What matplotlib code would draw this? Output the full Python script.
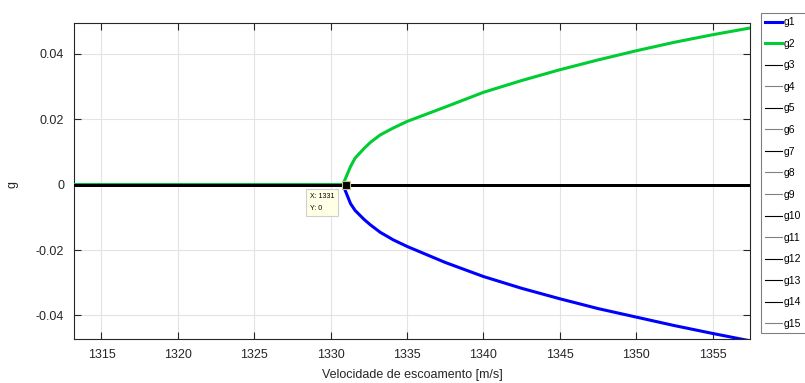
import matplotlib.pyplot as plt
from matplotlib.ticker import FuncFormatter

plt.rcParams['font.family'] = ['Liberation Sans', 'DejaVu Sans']

# flow speed [m/s] and the two branches that split at ~1331
speed = [1313, 1330.8, 1331.3, 1331.6, 1332.2, 1332.6, 1333.25, 1334.1, 1335,
         1337.5, 1340, 1342.5, 1345, 1347.5, 1350, 1352.5, 1355, 1357.5]
g1 = [0, 0, -0.0058, -0.0079, -0.0107, -0.0123, -0.0146, -0.0169, -0.0189,
      -0.0238, -0.0281, -0.0317, -0.0349, -0.0379, -0.0405, -0.0431, -0.0455, -0.0478]
g2 = [0, 0, 0.0055, 0.0081, 0.0111, 0.0129, 0.0152, 0.0173, 0.0193,
      0.0237, 0.0282, 0.0318, 0.0351, 0.0381, 0.0409, 0.0435, 0.0458, 0.0479]

# the remaining modes stay at zero over the whole range
zeroSpeed = [1313, 1357.5]
zeroNames = ['g%d' % i for i in range(3, 16)]
zeroLegendColors = ['black', 'grey', 'black', 'grey', 'black', 'grey', 'grey',
                    'black', 'grey', 'black', 'black', 'black', 'grey']

xTicks = [1315, 1320, 1325, 1330, 1335, 1340, 1345, 1350, 1355]
yTicks = [-0.04, -0.02, 0, 0.02, 0.04]

tipX, tipY = 1331, 0

fig = plt.figure(figsize=(8.05, 3.83), dpi=100)
ax = fig.add_axes([74 / 805, 1 - 339 / 383, (750 - 74) / 805, (339 - 23.3) / 383])

ax.plot(speed, g1, color='#0000ff', lw=2.2, label='g1', zorder=3)
ax.plot(speed, g2, color='#00cc33', lw=2.2, label='g2', zorder=3)
for name in zeroNames:
    ax.plot(zeroSpeed, [0, 0], color='black', lw=1.8, label=name, zorder=4)

# data tip
ax.plot([tipX], [tipY], marker='s', ms=6, mfc='black', mec='#c8c08a', mew=0.8,
        ls='none', zorder=6)
ax.annotate('X: %d\nY: %d' % (tipX, tipY), xy=(tipX, tipY), xytext=(-26, -6),
            textcoords='offset points', ha='left', va='top', fontsize=5,
            linespacing=2.0,
            bbox=dict(boxstyle='square,pad=0.6', fc='#ffffe6', ec='#cfcfcf', lw=0.8),
            zorder=6)

ax.set_xlim(1313.2, 1357.45)
ax.set_ylim(-0.0472, 0.0493)
ax.set_xticks(xTicks)
ax.set_yticks(yTicks)
ax.yaxis.set_major_formatter(FuncFormatter(lambda v, p: '0' if abs(v) < 1e-12 else ('%g' % v)))
ax.tick_params(direction='in', length=5, width=0.8, top=True, right=True,
               labelsize=9, colors='#262626', pad=7)
ax.grid(True, color='#e3e3e3', lw=0.8)
ax.set_axisbelow(True)
for s in ax.spines.values():
    s.set_color('#262626')
    s.set_linewidth(0.8)

ax.set_xlabel('Velocidade de escoamento [m/s]', fontsize=9, color='#262626', labelpad=6)
ax.set_ylabel('g', fontsize=9, color='#262626')
ax.yaxis.set_label_coords(-0.082, 0.49)

leg = ax.legend(loc='upper left', bbox_to_anchor=(761 / 805, 1 - 13 / 383),
                bbox_transform=fig.transFigure, borderaxespad=0, fontsize=7.5,
                handlelength=1.6, handletextpad=0.2, labelspacing=1.11,
                borderpad=0.4, fancybox=False, edgecolor='#808080', framealpha=1)
leg.get_frame().set_linewidth(0.8)
for line, c in zip(leg.get_lines()[2:], zeroLegendColors):
    line.set_linewidth(0.8)
    line.set_color(c)

fig.savefig('out.png', dpi=100)
